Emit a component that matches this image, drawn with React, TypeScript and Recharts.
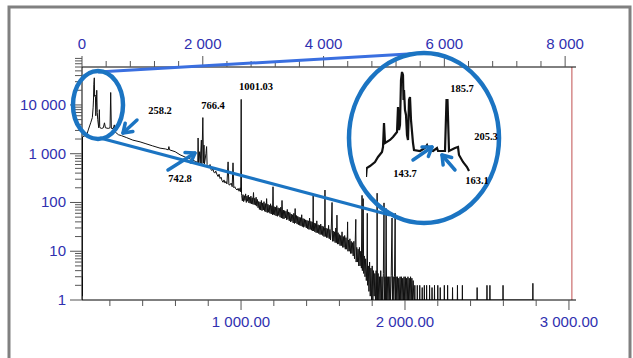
import { LineChart, Line, XAxis, YAxis, ReferenceLine } from "recharts";

// spectrum, [m/z, intensity]
const LOW_MASS: [number, number][] = [
  [30, 1], [31, 3], [32, 1.2], [33, 2200], [42, 2300], [52, 2350], [59, 2450], [70, 3200],
  [83, 4300], [93, 5500], [98, 9000], [100, 12600], [102, 26000], [105, 36000], [107, 15000],
  [110, 16000], [112, 14800], [114, 6000], [116, 8000], [118, 11000], [120, 20000], [123, 7000],
  [126, 5000], [132, 3400], [136, 8000], [138, 3600], [140, 3400], [150, 3300], [160, 3400],
  [167, 4300], [173, 3400], [190, 3300], [201, 3400], [205, 18000], [209, 3300], [221, 3300],
  [227, 3900], [232, 2800], [252, 2450], [270, 2350], [300, 2150], [340, 1900], [384, 1750],
  [420, 1600], [460, 1450], [506, 1300], [540, 1250], [556, 1200], [560, 1400], [564, 1200],
  [598, 1100], [628, 950], [660, 850], [690, 780], [720, 700], [736, 660], [738, 2100],
  [741, 650], [748, 1100], [751, 640], [758, 1900], [761, 620], [767, 5500], [771, 640],
  [774, 1500], [777, 620], [786, 1000], [790, 1400], [793, 600], [800, 560],
];

const MID_MASS: [number, number][] = [
  [806, 520], [811, 600], [816, 480], [822, 450], [828, 500], [834, 420], [840, 400], [846, 440],
  [854, 370], [860, 340], [866, 380], [872, 310], [878, 330], [884, 280], [890, 260], [896, 290],
  [902, 250], [908, 270], [914, 240], [921, 680], [926, 230], [933, 230], [940, 250], [946, 210],
  [951, 650], [956, 200], [962, 210], [968, 190], [976, 180], [982, 195], [988, 170], [995, 200],
  [998, 165], [1001, 13000], [1003, 150],
];

const NOISE_BAND: [number, number][] = [
  [1004, 140], [1008, 108], [1012, 145], [1016, 104], [1020, 138], [1024, 110], [1028, 150], [1032, 100],
  [1036, 135], [1040, 106], [1044, 142], [1048, 98], [1052, 128], [1056, 96], [1060, 135], [1064, 94],
  [1068, 125], [1072, 92], [1076, 160], [1080, 90], [1084, 122], [1088, 88], [1092, 128], [1096, 84],
  [1100, 115], [1104, 78], [1108, 105], [1112, 72], [1116, 102], [1120, 70], [1124, 110], [1128, 68],
  [1132, 98], [1136, 70], [1140, 104], [1144, 66], [1148, 95], [1152, 64], [1156, 120], [1160, 62],
  [1164, 92], [1168, 63], [1172, 88], [1176, 60], [1180, 94], [1184, 58], [1188, 86], [1192, 56],
  [1195, 210], [1198, 57], [1202, 82], [1206, 55], [1210, 80], [1214, 53], [1218, 86], [1222, 52],
  [1226, 78], [1230, 54], [1234, 76], [1238, 50], [1242, 80], [1246, 48], [1250, 110], [1254, 47],
  [1258, 70], [1262, 46], [1266, 68], [1270, 48], [1274, 66], [1278, 44], [1282, 72], [1286, 45],
  [1290, 64], [1294, 42], [1298, 62], [1302, 40], [1306, 58], [1310, 41], [1314, 56], [1318, 38],
  [1322, 60], [1326, 37], [1330, 75], [1334, 38], [1338, 54], [1342, 36], [1346, 52], [1350, 35],
  [1354, 50], [1358, 34], [1362, 49], [1366, 33], [1370, 56], [1374, 32], [1378, 47], [1382, 31],
  [1386, 46], [1390, 32], [1394, 44], [1398, 30], [1402, 43], [1406, 29], [1410, 42], [1414, 28],
  [1418, 48], [1422, 28], [1426, 41], [1430, 27], [1434, 40], [1438, 26], [1440, 140], [1442, 26],
  [1446, 38], [1450, 25], [1454, 37], [1458, 24], [1462, 42], [1466, 24], [1470, 35], [1474, 23],
  [1478, 34], [1482, 22], [1486, 36], [1490, 22], [1494, 33], [1498, 21], [1502, 32], [1506, 20],
  [1510, 31], [1512, 180], [1514, 20], [1518, 30], [1522, 19], [1526, 29], [1530, 19], [1534, 34],
  [1538, 18], [1542, 28], [1546, 17], [1550, 27], [1555, 100], [1558, 16], [1562, 26], [1566, 16],
  [1570, 25], [1574, 15], [1578, 30], [1582, 15], [1585, 55], [1588, 14], [1592, 24], [1596, 14],
  [1600, 22], [1604, 13], [1608, 21], [1612, 13], [1616, 25], [1620, 12], [1624, 20], [1628, 12],
  [1632, 21], [1636, 11], [1640, 19], [1644, 11], [1648, 18], [1650, 40], [1652, 10], [1656, 17],
  [1660, 10], [1664, 18], [1668, 9], [1672, 16], [1676, 9], [1680, 15], [1684, 8], [1688, 16],
  [1692, 7], [1696, 14], [1700, 45], [1702, 6], [1706, 12], [1710, 6], [1714, 11], [1718, 5],
  [1722, 12], [1726, 5], [1730, 10], [1734, 4.5], [1738, 140], [1740, 4], [1742, 9], [1745, 120],
  [1748, 3.5], [1752, 8], [1756, 3], [1760, 7], [1764, 2.5], [1768, 6], [1770, 60], [1772, 2],
  [1776, 5], [1780, 1.5], [1784, 6], [1788, 1.2], [1792, 4.5], [1796, 1], [1800, 5], [1804, 1],
  [1808, 4], [1812, 1.2], [1816, 3.5], [1820, 1], [1824, 4], [1828, 1], [1830, 155], [1832, 1],
  [1836, 3.5], [1840, 1], [1844, 3], [1848, 1], [1852, 4], [1856, 1], [1860, 3], [1864, 1],
  [1868, 3.5], [1872, 98], [1874, 1], [1878, 3], [1882, 1], [1885, 75], [1888, 1], [1892, 3],
  [1896, 1], [1900, 3], [1904, 1], [1908, 3], [1912, 1], [1916, 3.2], [1921, 48], [1924, 1],
  [1928, 3], [1932, 1], [1936, 3], [1940, 60], [1942, 1], [1946, 3], [1950, 1], [1954, 3],
  [1958, 1], [1962, 2.8], [1966, 1], [1970, 3], [1974, 1], [1978, 3], [1982, 1], [1986, 2.8],
  [1990, 1], [1994, 3], [1998, 1], [2002, 3], [2006, 1], [2010, 2.8], [2014, 1], [2018, 3],
  [2022, 1], [2026, 2.8], [2030, 1], [2034, 3], [2038, 1], [2042, 2.8], [2046, 1], [2050, 2.5],
  [2054, 1],
];

const TAIL_STICKS: [number, number][] = [
  [2059, 1], [2060, 2], [2061, 1], [2074, 1], [2075, 2], [2076, 1], [2089, 1], [2090, 2], [2091, 1],
  [2104, 1], [2105, 1.8], [2106, 1], [2117, 1], [2118, 2], [2119, 1], [2131, 1], [2132, 2], [2133, 1],
  [2149, 1], [2150, 2], [2151, 1], [2164, 1], [2165, 1.8], [2166, 1], [2179, 1], [2180, 2], [2181, 1],
  [2199, 1], [2200, 2], [2201, 1], [2214, 1], [2215, 1.8], [2216, 1], [2239, 1], [2240, 2], [2241, 1],
  [2259, 1], [2260, 2], [2261, 1], [2289, 1], [2290, 1.8], [2291, 1], [2319, 1], [2320, 2], [2321, 1],
  [2349, 1], [2350, 2], [2351, 1], [2439, 1], [2440, 1.8], [2441, 1], [2499, 1], [2500, 2], [2501, 1],
  [2517, 1], [2518, 2], [2519, 1], [2597, 1], [2598, 2], [2599, 1], [2779, 1], [2780, 2.2], [2781, 1],
];

// zoomed low-mass inset (its own units)
const INSET_TRACE: [number, number][] = [
  [0, 0], [0.7, 9], [4, 11], [9, 15], [12, 20], [16, 25], [17, 30], [18, 54], [19, 34], [24, 37],
  [27, 40], [31, 45], [32, 70], [33, 47], [34, 52], [35, 97], [36, 105], [37, 102], [37.5, 77],
  [38, 87], [39, 67], [40, 62], [41, 42], [42, 37], [43, 77], [44, 80], [45, 57], [47, 34],
  [48, 27], [54, 26], [59, 29], [61, 32], [63, 27], [67, 26], [71, 29], [72, 26], [79, 26],
  [80.5, 77], [81.5, 77], [83, 26], [89, 29], [92, 30], [93, 22], [97, 15], [101, 10], [103, 6],
];

const BOTTOM_TICKS = [200, 400, 600, 800, 1000, 1200, 1400, 1600, 1800, 2000, 2200, 2400, 2600, 2800, 3000];
const TOP_TICKS = [0, 400, 800, 1200, 1600, 2000, 2400, 2800, 3200, 3600, 4000, 4400, 4800, 5200, 5600, 6000, 6400, 6800, 7200, 7600, 8000];
const TOP_RANGE = [0, 8180];
const Y_DECADES = [1, 10, 100, 1000, 10000];
const Y_TICKS = Y_DECADES.flatMap((d) => [1, 2, 3, 4, 5, 6, 7, 8, 9].map((k) => k * d));

const spectrum = [...LOW_MASS, ...MID_MASS, ...NOISE_BAND, ...TAIL_STICKS].map(([mz, v]) => ({ mz, v }));
const inset = INSET_TRACE.map(([x, y]) => ({ x, y }));
const topRange = TOP_RANGE.map((t) => ({ t, v: 0 }));

const BLUE = "#3030b0";
const ANNOT = "#1b74c2";
const AXIS_FONT = "'Liberation Sans', Arial, sans-serif";
const LABEL_FONT = "'Liberation Serif', 'Times New Roman', serif";

const fmt = (v: number) => String(v).replace(/\B(?=(\d{3})+(?!\d))/g, " ");

function YTick(props: any) {
  const { x, y, payload } = props;
  const major = Y_DECADES.includes(payload.value);
  return (
    <g>
      <line x1={x - (major ? 12 : 7)} x2={x} y1={y} y2={y} stroke="#555" />
      {major && (
        <text x={x - 16} y={y} dy={5} textAnchor="end" fill={BLUE} fontSize={15} fontFamily={AXIS_FONT}>
          {fmt(payload.value)}
        </text>
      )}
    </g>
  );
}

function BottomTick(props: any) {
  const { x, y, payload } = props;
  const major = payload.value % 1000 === 0;
  return (
    <g>
      <line x1={x} x2={x} y1={y} y2={y + (major ? 10 : 6)} stroke="#555" />
      {major && (
        <text x={x} y={y} dy={27} textAnchor="middle" fill={BLUE} fontSize={15} fontFamily={AXIS_FONT}>
          {fmt(payload.value) + ".00"}
        </text>
      )}
    </g>
  );
}

function TopTick(props: any) {
  const { x, y, payload } = props;
  const major = payload.value % 2000 === 0;
  return (
    <g>
      <line x1={x} x2={x} y1={y} y2={y - (major ? 11 : 6)} stroke="#555" />
      {major && (
        <text x={x} y={y} dy={-18} textAnchor="middle" fill={BLUE} fontSize={15} fontFamily={AXIS_FONT}>
          {fmt(payload.value)}
        </text>
      )}
    </g>
  );
}

function Arrow({ x1, y1, x2, y2 }: { x1: number; y1: number; x2: number; y2: number }) {
  const a = Math.atan2(y2 - y1, x2 - x1);
  const h = 10;
  const p1 = [x2 - h * Math.cos(a - 0.6), y2 - h * Math.sin(a - 0.6)];
  const p2 = [x2 - h * Math.cos(a + 0.6), y2 - h * Math.sin(a + 0.6)];
  return (
    <g stroke={ANNOT} strokeWidth={3.5} fill="none" strokeLinecap="round" strokeLinejoin="round">
      <line x1={x1} y1={y1} x2={x2} y2={y2} />
      <polyline points={`${p1.join(",")} ${x2},${y2} ${p2.join(",")}`} />
    </g>
  );
}

function PeakLabel({ x, y, text, clip }: { x: number; y: number; text: string; clip?: boolean }) {
  return (
    <text x={x} y={y} textAnchor="middle" dy={4} fontSize={10.5} fontWeight="bold" fontFamily={LABEL_FONT}
      fill="#000" clipPath={clip ? "url(#bigCircle)" : undefined}>
      {text}
    </text>
  );
}

const layer = { position: "absolute" as const, left: 0, top: 0 };

export default function App() {
  return (
    <div style={{ position: "absolute", left: 0, top: 0, width: 633, height: 358, background: "#fff", overflow: "hidden" }}>
      <div style={layer}>
        <LineChart width={633} height={358} data={spectrum} margin={{ top: 67, right: 57, bottom: 0, left: 0 }}>
          <XAxis dataKey="mz" type="number" domain={[30, 3043]} allowDataOverflow
            ticks={BOTTOM_TICKS} height={58} tickSize={0} tickMargin={0} tickLine={false}
            axisLine={{ stroke: "#000" }} tick={(p: any) => <BottomTick {...p} />} interval={0} />
          <YAxis scale="log" domain={[1, 60000]} allowDataOverflow ticks={Y_TICKS} width={82}
            tickSize={0} tickMargin={0} tickLine={false} axisLine={{ stroke: "#000" }}
            tick={(p: any) => <YTick {...p} />} interval={0} />
          <YAxis yAxisId="right" orientation="right" width={0} tick={false} tickLine={false}
            axisLine={{ stroke: "#000" }} domain={[0, 1]} />
          <ReferenceLine x={3018} stroke="#c05050" strokeWidth={1} />
          <Line type="linear" dataKey="v" stroke="#111" strokeWidth={1} dot={false} isAnimationActive={false} />
        </LineChart>
      </div>

      {/* secondary top axis (0 - 8 000) */}
      <div style={layer}>
        <LineChart width={633} height={358} data={topRange} margin={{ top: 0, right: 57, bottom: 58, left: 82 }}>
          <XAxis dataKey="t" type="number" orientation="top" domain={[0, 8180]} allowDataOverflow
            ticks={TOP_TICKS} height={67} tickSize={0} tickMargin={0} tickLine={false}
            axisLine={{ stroke: "#000" }} tick={(p: any) => <TopTick {...p} />} interval={0} />
          <YAxis hide domain={[-1, 1]} />
          <Line type="linear" dataKey="v" stroke="none" dot={false} isAnimationActive={false} />
        </LineChart>
      </div>

      <div style={{ position: "absolute", left: 366, top: 67 }}>
        <LineChart width={104} height={110} data={inset} margin={{ top: 0, right: 0, bottom: 0, left: 0 }}>
          <XAxis dataKey="x" type="number" domain={[0, 104]} hide />
          <YAxis domain={[0, 110]} hide />
          <Line type="linear" dataKey="y" stroke="#111" strokeWidth={2.2} dot={false} isAnimationActive={false} />
        </LineChart>
      </div>

      <svg width={633} height={358} style={{ ...layer, pointerEvents: "none" }}>
        <defs>
          <clipPath id="bigCircle">
            <ellipse cx={424} cy={138} rx={76} ry={86} />
          </clipPath>
        </defs>
        <rect x={9} y={7} width={621} height={380} fill="none" stroke="#808080" strokeWidth={3} />
        <line x1={98} y1={72} x2={425} y2={53} stroke="#3a6fe0" strokeWidth={3} />
        <line x1={100} y1={138} x2={390} y2={215} stroke={ANNOT} strokeWidth={3} />
        <ellipse cx={98} cy={105} rx={25} ry={34} fill="none" stroke={ANNOT} strokeWidth={4.5} />
        <ellipse cx={424} cy={138} rx={75} ry={85} fill="none" stroke={ANNOT} strokeWidth={4.5} />
        <Arrow x1={137} y1={120} x2={123} y2={133} />
        <Arrow x1={168} y1={170} x2={195} y2={153} />
        <Arrow x1={413} y1={160} x2={432} y2={147} />
        <Arrow x1={455} y1={170} x2={442} y2={155} />
        <PeakLabel x={160} y={110} text="258.2" />
        <PeakLabel x={213} y={105} text="766.4" />
        <PeakLabel x={256} y={86} text="1001.03" />
        <PeakLabel x={180} y={178} text="742.8" />
        <PeakLabel x={462} y={88} text="185.7" />
        <PeakLabel x={486} y={136} text="205.3" clip />
        <PeakLabel x={405} y={173} text="143.7" />
        <PeakLabel x={477} y={180} text="163.1" clip />
      </svg>
    </div>
  );
}
